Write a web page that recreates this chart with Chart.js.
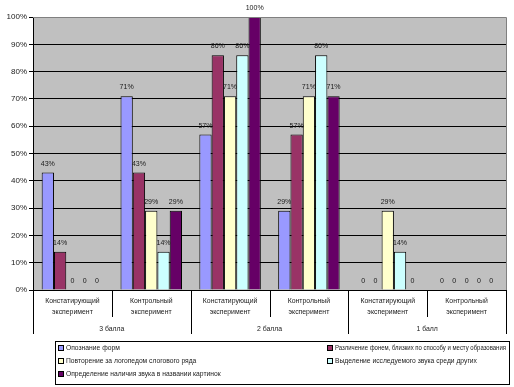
<!DOCTYPE html>
<html>
<head>
<meta charset="utf-8">
<script src="https://cdn.jsdelivr.net/npm/chart.js@4/dist/chart.umd.min.js"></script>
<style>
  html, body { margin: 0; padding: 0; background: #ffffff; }
  #wrap { width: 514px; height: 387px; }
</style>
</head>
<body>
<div id="wrap"><canvas id="c" width="514" height="387"></canvas></div>
<script>
// ---- data ----
const categoryLine1 = ['Констатирующий', 'Контрольный', 'Констатирующий', 'Контрольный', 'Констатирующий', 'Контрольный'];
const categoryLine2 = ['эксперимент', 'эксперимент', 'эксперимент', 'эксперимент', 'эксперимент', 'эксперимент'];
const groupLabels = ['3 балла', '2 балла', '1 балл'];
const seriesNames = [
  'Опознание форм',
  'Различение фонем, близких по способу и месту образования',
  'Повторение за логопедом слогового ряда',
  'Выделение исследуемого звука среди других',
  'Определение наличия звука в названии картинок'
];
const s1 = [43, 71, 57, 29, 0, 0];
const s2 = [14, 43, 86, 57, 0, 0];
const s3 = [0, 29, 71, 71, 29, 0];
const s4 = [0, 14, 86, 86, 14, 0];
const s5 = [0, 29, 100, 71, 0, 0];
const yTicks = [0, 10, 20, 30, 40, 50, 60, 70, 80, 90, 100];

const seriesValues = [s1, s2, s3, s4, s5];
const seriesColors = ['#9999FF', '#993366', '#FFFFCC', '#CCFFFF', '#660066'];
const FONT = '"Liberation Sans", Arial, sans-serif';

function drawText(ctx, txt, x, y, align, size, sx, color, maxW) {
  ctx.save();
  ctx.font = size + 'px ' + FONT;
  ctx.fillStyle = color || '#000';
  ctx.textBaseline = 'middle';
  const raw = ctx.measureText(txt).width;
  if (maxW && raw * sx > maxW) sx = maxW / raw;
  ctx.translate(x, y);
  ctx.scale(sx, 1);
  let dx = 0;
  if (align === 'center') dx = -raw / 2;
  else if (align === 'right') dx = -raw;
  ctx.textAlign = 'left';
  ctx.fillText(txt, dx, 0);
  ctx.restore();
}

const decorPlugin = {
  id: 'decor',
  beforeDraw(chart) {
    const { ctx, chartArea: a } = chart;
    ctx.save();
    ctx.fillStyle = '#C0C0C0';
    ctx.fillRect(a.left, a.top, a.right - a.left, a.bottom - a.top);
    ctx.restore();
  },
  afterDraw(chart) {
    const { ctx, chartArea: a } = chart;
    const xs = chart.scales.x;
    // plot border top/right
    ctx.save();
    ctx.strokeStyle = '#808080';
    ctx.lineWidth = 1;
    ctx.beginPath();
    ctx.moveTo(a.left, Math.round(a.top) + 0.5);
    ctx.lineTo(Math.round(a.right) + 0.5, Math.round(a.top) + 0.5);
    ctx.lineTo(Math.round(a.right) + 0.5, Math.round(a.bottom));
    ctx.stroke();
    ctx.restore();

    // data labels
    chart.data.datasets.forEach((ds, di) => {
      const meta = chart.getDatasetMeta(di);
      meta.data.forEach((el, i) => {
        const v = ds.data[i];
        const t = v === 0 ? '0' : v + '%';
        drawText(ctx, t, el.x, el.y - 9, 'center', 8, 0.88, '#1a1a1a');
      });
    });

    // category labels & separators
    const n = chart.data.labels.length;
    const w = (a.right - a.left) / n;
    ctx.save();
    ctx.strokeStyle = '#000';
    ctx.lineWidth = 1;
    for (let k = 0; k <= n; k++) {
      const x = Math.round(a.left + k * w) + 0.5;
      ctx.beginPath();
      ctx.moveTo(x, a.bottom);
      ctx.lineTo(x, k % 2 === 0 ? a.bottom + 44 : a.bottom + 27);
      ctx.stroke();
    }
    ctx.restore();
    for (let i = 0; i < n; i++) {
      const cx = xs.getPixelForValue(i);
      drawText(ctx, categoryLine1[i], cx, a.bottom + 11, 'center', 8, 0.86, '#1a1a1a');
      drawText(ctx, categoryLine2[i], cx, a.bottom + 22, 'center', 8, 0.86, '#1a1a1a');
    }
    groupLabels.forEach((g, j) => {
      const cx = a.left + (2 * j + 1) * w;
      drawText(ctx, g, cx, a.bottom + 39, 'center', 8, 0.86, '#1a1a1a');
    });

    // legend
    const lx = 55, ly = 341, lw = 454, lh = 43;
    ctx.save();
    ctx.strokeStyle = '#000';
    ctx.lineWidth = 1;
    ctx.strokeRect(lx + 0.5, ly + 0.5, lw, lh);
    ctx.restore();
    const colX = [58, 327];
    const rowY = [348, 361, 374];
    chart.data.datasets.forEach((ds, di) => {
      const col = di % 2, row = Math.floor(di / 2);
      const mx = colX[col], my = rowY[row];
      ctx.save();
      ctx.fillStyle = ds.backgroundColor;
      ctx.fillRect(mx, my - 3, 5, 5);
      ctx.strokeStyle = '#000';
      ctx.strokeRect(mx + 0.5, my - 2.5, 5, 5);
      ctx.restore();
      drawText(ctx, ds.label, mx + 8, my, 'left', 8, 0.84, '#1a1a1a', col === 1 ? 171 : 260);
    });
  }
};

new Chart(document.getElementById('c'), {
  type: 'bar',
  data: {
    labels: categoryLine1.map((l, i) => [l, categoryLine2[i]]),
    datasets: seriesNames.map((name, i) => ({
      label: name,
      data: seriesValues[i],
      backgroundColor: seriesColors[i],
      borderColor: '#000000',
      borderWidth: 1,
      borderSkipped: 'start',
      categoryPercentage: 0.78,
      barPercentage: 1.0
    }))
  },
  options: {
    responsive: false,
    devicePixelRatio: 1,
    animation: false,
    layout: { padding: { left: 0, right: 8, top: 17, bottom: 0 } },
    plugins: {
      legend: { display: false },
      tooltip: { enabled: false }
    },
    scales: {
      x: {
        type: 'category',
        grid: { display: false },
        ticks: { display: false },
        border: { display: true, color: '#000', width: 1 },
        afterFit(scale) { scale.height = 97; }
      },
      y: {
        min: 0,
        max: 100,
        afterBuildTicks(scale) { scale.ticks = yTicks.map(v => ({ value: v })); },
        ticks: {
          callback: v => v + '%',
          font: { family: FONT, size: 8 },
          color: '#1a1a1a',
          padding: 2
        },
        grid: {
          color: ctx => (ctx.tick && ctx.tick.value === 100) ? '#808080' : '#000000',
          lineWidth: 1,
          drawTicks: true,
          tickLength: 4,
          tickColor: '#000'
        },
        border: { display: true, color: '#000', width: 1 },
        afterFit(scale) { scale.width = 33; }
      }
    }
  },
  plugins: [decorPlugin]
});
</script>
</body>
</html>
